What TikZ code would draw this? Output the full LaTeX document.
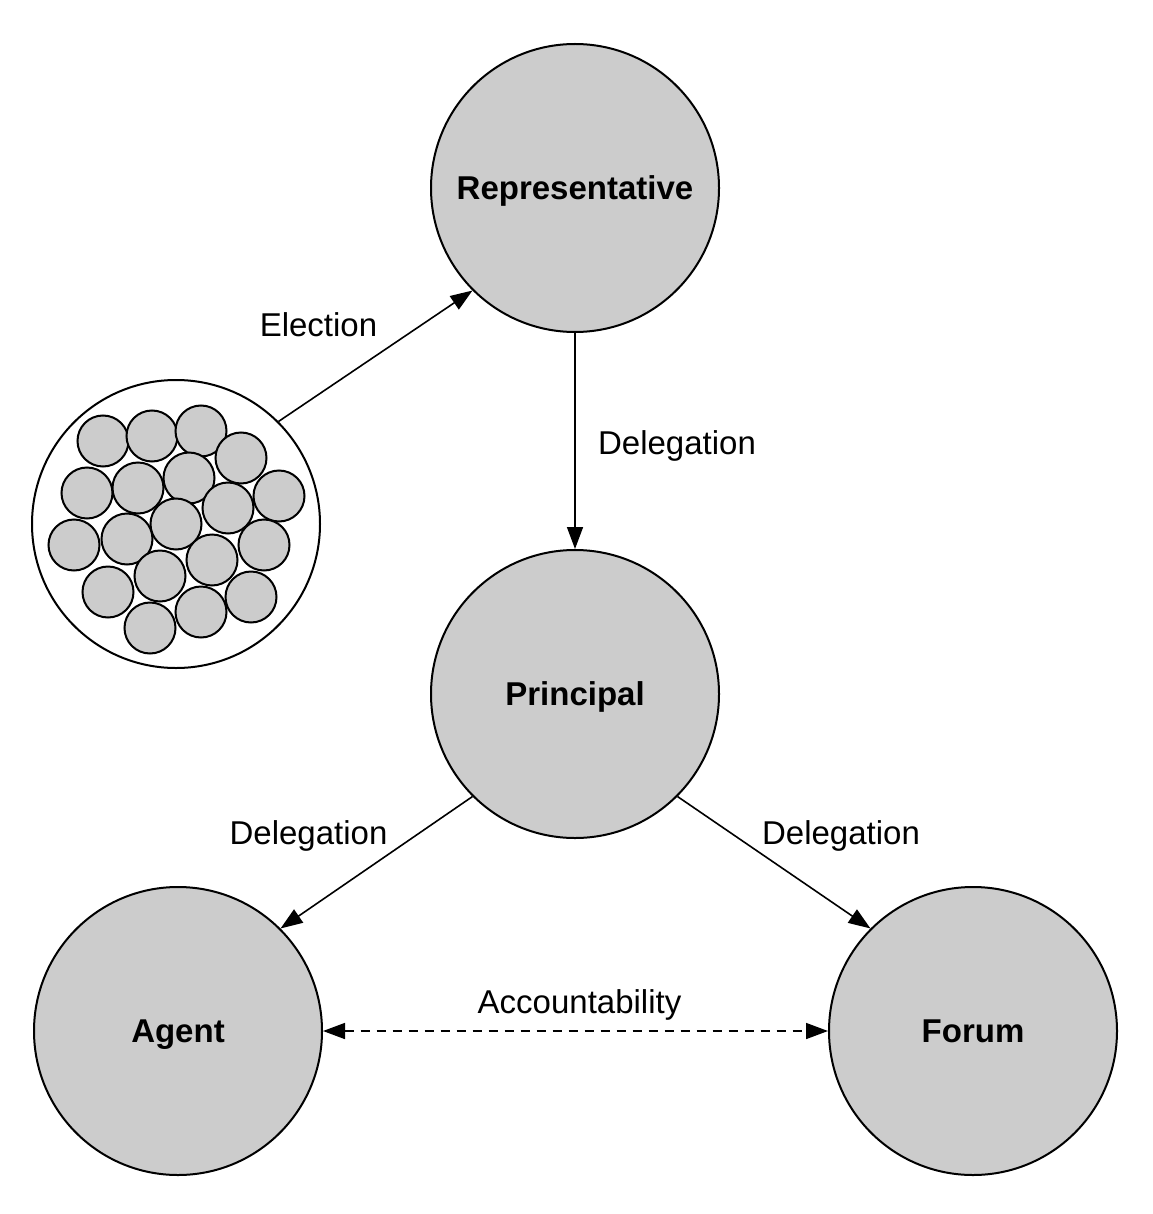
\documentclass[tikz,border=0pt]{standalone}
\usepackage{fontspec}
\setmainfont{Liberation Sans}
\usepackage{tikz}
\usetikzlibrary{arrows.meta}

\definecolor{discgray}{HTML}{CCCCCC}

\tikzset{
	actor/.style={circle, draw, line width=1pt, fill=discgray, minimum size=144pt, inner sep=0pt, text depth=0pt, font=\fontsize{16.5}{20}\selectfont\bfseries},
	member/.style={circle, draw, line width=1pt, fill=discgray, minimum size=25.5pt, inner sep=0pt},
	crowdbox/.style={circle, draw, line width=1pt, fill=white, minimum size=144pt, inner sep=0pt},
	link/.style={line width=0.8pt}
}

\begin{document}
\begin{tikzpicture}[x=0.5pt, y=-0.5pt, >={Triangle[length=11pt,width=8pt]}, font=\fontsize{16.5}{20}\selectfont]
\useasboundingbox (0,0) rectangle (1152,1214);

\node[actor] (rep) at (575,188) {Representative};
\node[actor] (prin) at (575,694) {Principal};
\node[actor] (agent) at (178,1031) {Agent};
\node[actor] (forum) at (973,1031) {Forum};

% the electorate
\node[crowdbox] (crowd) at (176,524) {};
\foreach \x/\y [count=\i] in {103/441, 152/436, 201/431, 241/458, 87/493, 138/488, 189/478,
	279/496, 228/508, 176/524, 74/545, 127/539, 264/545, 212/560, 160/576, 108/592,
	251/597, 201/612, 150/628}
	\node[member] (m\i) at (\x,\y) {};

\path[->, link]
(crowd.45) edge node [xshift=-28.5pt, yshift=15.5pt] {Election} (rep.225)
(rep.south) edge node [xshift=51pt, yshift=-2.5pt] {Delegation} (prin.north)
(prin.225) edge node [xshift=-34pt, yshift=13.5pt] {Delegation} (agent.45)
(prin.-45) edge node [xshift=33.5pt, yshift=13.5pt] {Delegation} (forum.135)
;
\path[<->, link, dash pattern=on 4.5pt off 3.5pt]
(agent.east) edge node [xshift=2pt, yshift=13pt] {Accountability} (forum.west)
;
\end{tikzpicture}
\end{document}
